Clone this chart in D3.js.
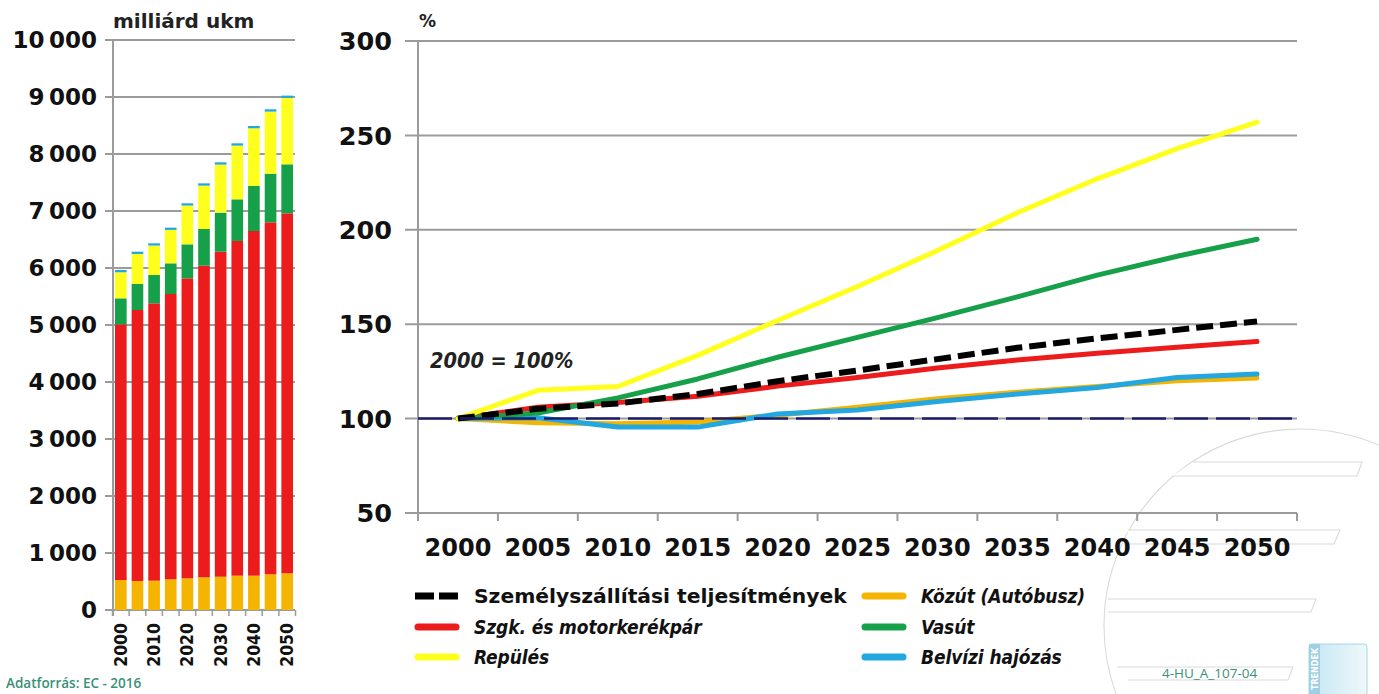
<!DOCTYPE html>
<html><head><meta charset="utf-8">
<script src="https://cdn.jsdelivr.net/npm/d3@7"></script>
<style>body{margin:0;background:#fff}svg{display:block}</style>
</head><body>
<svg id="c" width="1379" height="694"></svg>
<script>
// ---------- data ----------
const years = [2000,2005,2010,2015,2020,2025,2030,2035,2040,2045,2050];
const barLabelYears = [2000,2010,2020,2030,2040,2050];
// left: billion passenger-km
const busBn   = [526,509,514,538,556,573,584,602,602,626,643];
const carBn   = [4486,4754,4866,5006,5263,5468,5702,5872,6047,6175,6316];
const railBn  = [456,456,497,538,596,643,685,731,790,854,860];
const airBn   = [457,527,516,586,680,761,843,942,1012,1089,1165];
const waterBn = [40,40,40,40,40,40,40,40,40,40,40];
const leftTicks = [0,1000,2000,3000,4000,5000,6000,7000,8000,9000,10000];
// right: index, 2000 = 100
const rightTicks = [50,100,150,200,250,300];
const totalIdx = [100,105.2,108,113,119.8,125.5,131.5,137.5,142.5,147,151.5];
const carIdx   = [100,106,108.5,111.8,117.2,121.8,126.8,131,134.6,137.8,140.8];
const airIdx   = [100,115,117,133.5,152,170,189,209,227,243,257];
const railIdx  = [100,103,111,121,132.5,143,153.5,164.5,176,186,195];
const busIdx   = [100,97.8,97.3,98.2,101.8,106,110.5,114,117,120,121.5];
const waterIdx = [100,100.5,95.5,95.5,102.5,104.5,109,113,116.5,121.8,123.6];

const legendNames = ["Személyszállítási teljesítmények","Szgk. és motorkerékpár","Repülés","Közút (Autóbusz)","Vasút","Belvízi hajózás"];

const C = {bus:"#f4b400", car:"#ec1c1c", rail:"#17a04a", air:"#ffff1e", water:"#22a7e0", total:"#000000", base:"#1c1c6a", grid:"#9b9b9b"};
const NUM = "'DejaVu Sans', sans-serif";
const COND = "'DejaVu Sans Condensed','DejaVu Sans',sans-serif";

const svg = d3.select("#c");
const fmt = v => d3.format(",")(v).replace(/,/g, "\u2009");

// ---------- watermark ----------
const wm = svg.append("g").attr("fill","none").attr("stroke","#dadada").attr("stroke-width",1.1);
const arc = d3.arc()({innerRadius:197, outerRadius:197, startAngle:-Math.PI*0.78, endAngle:Math.PI*0.35});
wm.append("path").attr("d", arc).attr("transform","translate(1301,626)");
const bands = [[1193,462,1362,1357,476,1172],[1128,530,1340,1334,544,1126],[1108,599,1316,1311,612,1108],[1117,667,1293,1288,680,1128]];
bands.forEach(b=>{
  wm.append("path").attr("d",`M${b[0]},${b[1]}L${b[2]},${b[1]}L${b[3]},${b[4]}L${b[5]},${b[4]}`)
    .attr("fill","#fff");
});
const lg = svg.append("defs").append("linearGradient").attr("id","lg").attr("x1","0").attr("x2","1");
lg.append("stop").attr("offset","0").attr("stop-color","#c4e6f2");
lg.append("stop").attr("offset","1").attr("stop-color","#eef8fb");
svg.append("rect").attr("x",1309).attr("y",644).attr("width",58).attr("height",52).attr("rx",3)
  .attr("fill","url(#lg)").attr("stroke","#a9d6e6");
svg.append("rect").attr("x",1309).attr("y",644).attr("width",11).attr("height",52).attr("fill","#9fcfe0");
svg.append("text").attr("transform","translate(1318,690) rotate(-90)").attr("font-family",NUM)
  .attr("font-size",8).attr("font-weight","bold").attr("fill","#fff").text("TRENDEK");
svg.append("text").attr("x",1162).attr("y",678).attr("font-family","'Open Sans',sans-serif")
  .attr("font-size",13.5).attr("fill","#3a8f78").text("4-HU_A_107-04");

// ---------- left stacked bar chart ----------
const yL = d3.scaleLinear().domain([0,10000]).range([610,40]);
const xL = d3.scaleBand().domain(years).range([112.5,295.5]).paddingInner(0.3).paddingOuter(0.15);
const gL = svg.append("g");
gL.selectAll("line.g").data(leftTicks).join("line")
  .attr("x1",105).attr("x2",295).attr("y1",d=>yL(d)).attr("y2",d=>yL(d))
  .attr("stroke",C.grid).attr("stroke-width",2);
gL.append("line").attr("x1",113).attr("x2",113).attr("y1",40).attr("y2",616).attr("stroke",C.grid).attr("stroke-width",2);
gL.selectAll("text.yl").data(leftTicks).join("text")
  .attr("x",97).attr("y",d=>yL(d)).attr("dy","0.36em").attr("text-anchor","end")
  .attr("font-family",NUM).attr("font-weight","bold").attr("font-size",23).attr("fill","#111")
  .text(fmt);
const tableL = years.map((y,i)=>({year:y, bus:busBn[i], car:carBn[i], rail:railBn[i], air:airBn[i], water:waterBn[i]}));
const stackL = d3.stack().keys(["bus","car","rail","air","water"])(tableL);
gL.selectAll("g.s").data(stackL).join("g").attr("fill",d=>C[d.key])
  .selectAll("rect").data(d=>d).join("rect")
  .attr("x",d=>xL(d.data.year)).attr("width",xL.bandwidth())
  .attr("y",d=>yL(d[1])).attr("height",d=>yL(d[0])-yL(d[1]));
// boundary ticks
const stepL = xL.step(), gapL = stepL*xL.paddingInner()/2;
gL.selectAll("line.t").data(years.concat(["end"])).join("line")
  .attr("x1",d=> d==="end" ? xL(2050)+xL.bandwidth()+gapL : xL(d)-gapL)
  .attr("x2",d=> d==="end" ? xL(2050)+xL.bandwidth()+gapL : xL(d)-gapL)
  .attr("y1",610).attr("y2",616).attr("stroke",C.grid).attr("stroke-width",1.5);
gL.selectAll("text.xl").data(barLabelYears).join("text")
  .attr("transform",d=>`translate(${xL(d)+xL.bandwidth()/2+6},623) rotate(-90)`)
  .attr("text-anchor","end").attr("font-family",COND)
  .attr("font-stretch","condensed").attr("font-weight","bold").attr("font-size",17.5).attr("fill","#111")
  .text(d=>d);
svg.append("text").attr("x",113).attr("y",28).attr("font-family",NUM).attr("font-weight","bold")
  .attr("font-size",20).attr("fill","#222").text("milliárd ukm");
svg.append("text").attr("x",6).attr("y",688).attr("font-family","'Open Sans',sans-serif")
  .attr("font-size",13.5).attr("font-weight",600).attr("fill","#3b8f79").text("Adatforrás: EC - 2016");

// ---------- right index line chart ----------
const yR = d3.scaleLinear().domain([50,300]).range([513,41]);
const xR = d3.scaleBand().domain(years).range([418,1297]).padding(0);
const gR = svg.append("g");
gR.selectAll("line.g").data(rightTicks).join("line")
  .attr("x1",405).attr("x2",1297).attr("y1",d=>yR(d)).attr("y2",d=>yR(d))
  .attr("stroke",C.grid).attr("stroke-width",2);
gR.append("line").attr("x1",418).attr("x2",418).attr("y1",41).attr("y2",520).attr("stroke",C.grid).attr("stroke-width",2);
gR.selectAll("line.t").data(years.concat(["end"])).join("line")
  .attr("x1",d=> d==="end" ? xR(2050)+xR.bandwidth() : xR(d))
  .attr("x2",d=> d==="end" ? xR(2050)+xR.bandwidth() : xR(d))
  .attr("y1",513).attr("y2",521).attr("stroke",C.grid).attr("stroke-width",2);
gR.selectAll("text.yl").data(rightTicks).join("text")
  .attr("x",392).attr("y",d=>yR(d)).attr("dy","0.36em").attr("text-anchor","end")
  .attr("font-family",NUM).attr("font-weight","bold").attr("font-size",25.5).attr("fill","#111").text(d=>d);
gR.selectAll("text.xl").data(years).join("text")
  .attr("x",d=>xR(d)+xR.bandwidth()/2).attr("y",556).attr("text-anchor","middle")
  .attr("font-family",NUM).attr("font-weight","bold").attr("font-size",24).attr("fill","#111").text(d=>d);
svg.append("text").attr("x",419).attr("y",27).attr("font-family",NUM).attr("font-weight","bold")
  .attr("font-size",17).attr("fill","#222").text("%");
svg.append("text").attr("x",430).attr("y",368).attr("font-family",COND).attr("font-weight","bold")
  .attr("font-style","italic").attr("font-size",21.5).attr("fill","#222").text("2000 = 100%");

const line = d3.line().x((d,i)=>xR(years[i])+xR.bandwidth()/2).y(d=>yR(d));
const series = [
  {v:busIdx, c:C.bus}, {v:waterIdx, c:C.water}, {v:carIdx, c:C.car},
  {v:railIdx, c:C.rail}, {v:airIdx, c:C.air}, {v:totalIdx, c:C.total, dash:"17,7"}
];
series.forEach(s=>{
  gR.append("path").attr("d",line(s.v)).attr("fill","none").attr("stroke",s.c)
    .attr("stroke-width",s.dash?6:5).attr("stroke-linejoin","round").attr("stroke-linecap",s.dash?"butt":"round")
    .attr("stroke-dasharray",s.dash||null);
});
gR.append("line").attr("x1",418).attr("x2",1300).attr("y1",yR(100)).attr("y2",yR(100))
  .attr("stroke",C.base).attr("stroke-width",2.5).attr("stroke-dasharray","34,8");

// ---------- legend ----------
const legend = [
  {name:legendNames[0], c:C.total, dash:true, col:0, row:0, italic:false},
  {name:legendNames[1], c:C.car, col:0, row:1, italic:true},
  {name:legendNames[2], c:C.air, col:0, row:2, italic:true},
  {name:legendNames[3], c:C.bus, col:1, row:0, italic:true},
  {name:legendNames[4], c:C.rail, col:1, row:1, italic:true},
  {name:legendNames[5], c:C.water, col:1, row:2, italic:true}
];
const colX = [415, 862], rowY = [596, 627, 657];
const gLeg = svg.append("g");
legend.forEach(l=>{
  const x = colX[l.col], y = rowY[l.row];
  if (l.dash) {
    gLeg.append("line").attr("x1",x).attr("x2",x+43).attr("y1",y).attr("y2",y).attr("stroke",l.c)
      .attr("stroke-width",7).attr("stroke-dasharray","19,5");
  } else {
    gLeg.append("line").attr("x1",x+3).attr("x2",x+41).attr("y1",y).attr("y2",y).attr("stroke",l.c)
      .attr("stroke-width",7).attr("stroke-linecap","round");
  }
  gLeg.append("text").attr("x",x+59).attr("y",y).attr("dy","0.36em")
    .attr("font-family",l.italic?COND:NUM).attr("font-weight","bold").attr("font-style",l.italic?"italic":"normal")
    .attr("letter-spacing",l.italic?"-0.1px":null)
    .attr("font-size",l.italic?19:20.3).attr("fill","#111").text(l.name);
});
</script>
</body></html>
